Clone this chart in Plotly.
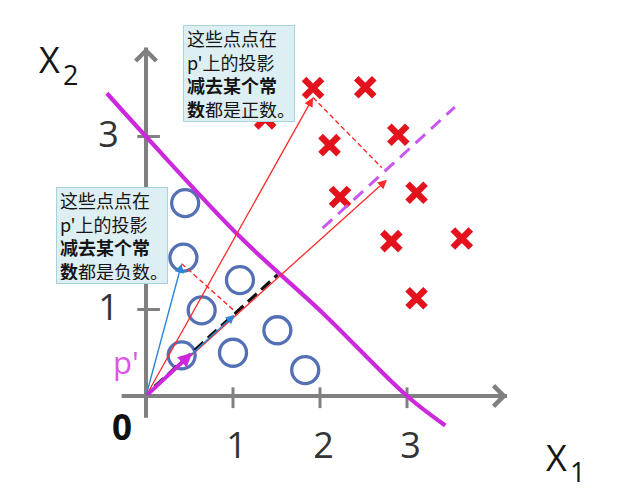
import plotly.graph_objects as go

# ---------------- data ----------------
cross_x = [1.37, 1.92, 2.52, 2.90, 2.11, 2.23, 3.11, 2.82, 3.63, 3.11]
cross_y = [3.21, 3.56, 3.57, 3.02, 2.90, 2.30, 2.35, 1.79, 1.82, 1.13]

circle_x = [0.45, 0.43, 1.08, 0.64, 1.51, 0.41, 1.00, 1.83]
circle_y = [2.23, 1.60, 1.34, 0.99, 0.76, 0.47, 0.50, 0.30]

boundary_x = [-0.45, 0.00, 1.08, 2.03, 3.00, 3.44]
boundary_y = [3.50, 3.00, 1.84, 0.96, 0.00, -0.34]

x_ticks = [1, 2, 3]
x_tick_labels = ["1", "2", "3"]
y_ticks = [1, 3]
y_tick_labels = ["1", "3"]

x_axis_ext = [-0.28, 4.15]
y_axis_ext = [-0.25, 4.03]

# projection direction p' (black dashed) and shifted (magenta dashed)
p_dir_x = [0.10, 1.51]
p_dir_y = [0.11, 1.40]
p_shift_x = [2.03, 3.55]
p_shift_y = [1.94, 3.34]
p_vec = [0.53, 0.50]

# red arrows (positive side) and blue arrows (negative side)
red_tip_x = [1.92, 2.77]
red_tip_y = [3.45, 2.50]
red_proj_x = [2.71]
red_proj_y = [2.64]
blue_tip_x = [0.41, 1.02]
blue_tip_y = [1.53, 0.94]
blue_proj_y = [0.98]

box_pos_text = "这些点点在<br>p'上的投影<br><b>减去某个常</b><br><b>数</b>都是正数。"
box_neg_text = "这些点点在<br>p'上的投影<br><b>减去某个常</b><br><b>数</b>都是负数。"

# ---------------- geometry of canvas ----------------
# page body has an 8px margin: figure pixel = reference pixel - 8
PAD = 8
W, H = 626 - PAD, 498 - PAD
OX, OY = 146 - PAD, 396 - PAD
SX, SY = 87.0, 86.5
xr = [-OX / SX, (W - OX) / SX]
yr = [-(H - OY) / SY, OY / SY]

GRAY = "#808080"
RED = "#ff2a2a"
XRED = "#e3121c"
BLUE = "#2f86d6"
CIRC = "rgb(84,112,180)"
MAG = "#cc28dc"
MAG2 = "#c857ee"
NUMFONT = "Open Sans, Lato, DejaVu Sans, sans-serif"
CJK = "Noto Sans CJK SC"

fig = go.Figure()

# axes lines
fig.add_trace(go.Scatter(x=x_axis_ext, y=[0, 0], mode="lines",
                         line=dict(color=GRAY, width=4), hoverinfo="skip"))
fig.add_trace(go.Scatter(x=[0, 0], y=y_axis_ext, mode="lines",
                         line=dict(color=GRAY, width=4), hoverinfo="skip"))
# tick marks
tx, ty = [], []
for t in x_ticks:
    tx += [t, t, None]
    ty += [-0.14, 0.10, None]
for t in y_ticks:
    tx += [-0.10, 0.16, None]
    ty += [t, t, None]
fig.add_trace(go.Scatter(x=tx, y=ty, mode="lines",
                         line=dict(color=GRAY, width=3), hoverinfo="skip"))

# tick labels
fig.add_trace(go.Scatter(x=[t + 0.04 for t in x_ticks], y=[-0.61] * len(x_ticks),
                         mode="text", text=x_tick_labels,
                         textfont=dict(family=NUMFONT, size=36, color="#333333"),
                         hoverinfo="skip"))
fig.add_trace(go.Scatter(x=[-0.43] * len(y_ticks), y=[t - 0.02 for t in y_ticks],
                         mode="text", text=y_tick_labels,
                         textfont=dict(family=NUMFONT, size=36, color="#333333"),
                         hoverinfo="skip"))

# circles
fig.add_trace(go.Scatter(x=circle_x, y=circle_y, mode="markers",
                         marker=dict(symbol="circle-open", size=27, color=CIRC,
                                     line=dict(color=CIRC, width=3.3)),
                         hoverinfo="skip"))
# crosses
fig.add_trace(go.Scatter(x=cross_x, y=cross_y, mode="markers",
                         marker=dict(symbol="x-thin", size=18, color=XRED,
                                     line=dict(color=XRED, width=6.5)),
                         hoverinfo="skip"))

# decision boundary
fig.add_trace(go.Scatter(x=boundary_x, y=boundary_y, mode="lines",
                         line=dict(color=MAG, width=4.2, shape="spline"),
                         hoverinfo="skip"))

# dashed direction lines
fig.add_trace(go.Scatter(x=p_dir_x, y=p_dir_y, mode="lines",
                         line=dict(color="#111111", width=3.2, dash="12px,6px"),
                         hoverinfo="skip"))
fig.add_trace(go.Scatter(x=p_shift_x, y=p_shift_y, mode="lines",
                         line=dict(color=MAG2, width=3, dash="13px,8px"),
                         hoverinfo="skip"))
# red dashed projection helpers
fig.add_trace(go.Scatter(x=[red_tip_x[0], red_proj_x[0]], y=[red_tip_y[0], red_proj_y[0]],
                         mode="lines", line=dict(color=RED, width=1.4, dash="5px,3px"),
                         hoverinfo="skip"))
fig.add_trace(go.Scatter(x=[blue_tip_x[0], blue_tip_x[1]], y=[blue_tip_y[0], blue_proj_y[0]],
                         mode="lines", line=dict(color=RED, width=1.4, dash="5px,3px"),
                         hoverinfo="skip"))

anns = []
# axis arrowheads
anns.append(dict(x=x_axis_ext[1], y=0, ax=x_axis_ext[1] - 0.3, ay=0, xref="x", yref="y",
                 axref="x", ayref="y", text="", showarrow=True, arrowhead=4,
                 arrowsize=1.0, arrowwidth=4, arrowcolor=GRAY))
anns.append(dict(x=0, y=y_axis_ext[1], ax=0, ay=y_axis_ext[1] - 0.3, xref="x", yref="y",
                 axref="x", ayref="y", text="", showarrow=True, arrowhead=4,
                 arrowsize=1.0, arrowwidth=4, arrowcolor=GRAY))
# red arrows
for x, y in zip(red_tip_x, red_tip_y):
    anns.append(dict(x=x, y=y, ax=0, ay=0, xref="x", yref="y", axref="x", ayref="y",
                     text="", showarrow=True, arrowhead=2, arrowsize=1.4,
                     arrowwidth=1.3, arrowcolor=RED))
# blue arrows
for x, y in zip(blue_tip_x, blue_tip_y):
    anns.append(dict(x=x, y=y, ax=0, ay=0, xref="x", yref="y", axref="x", ayref="y",
                     text="", showarrow=True, arrowhead=2, arrowsize=1.3,
                     arrowwidth=1.4, arrowcolor=BLUE))
# p' arrow
anns.append(dict(x=p_vec[0], y=p_vec[1], ax=0, ay=0, xref="x", yref="y", axref="x",
                 ayref="y", text="", showarrow=True, arrowhead=2, arrowsize=0.7,
                 arrowwidth=4, arrowcolor=MAG))


# labels (positions given in reference-picture pixels)
def px(xp):
    return (xp - PAD) / W


def py(yp):
    return 1 - (yp - PAD) / H


def label(xp, yp, txt, size, color):
    anns.append(dict(x=px(xp), y=py(yp), xref="paper", yref="paper", text=txt,
                     xanchor="center", yanchor="middle", showarrow=False,
                     font=dict(family=NUMFONT, size=size, color=color)))


label(126, 362, "p'", 31, "#dd55e6")
label(122, 426, "<b>0</b>", 35, "#111111")
label(49, 60, "X", 36, "#151515")
label(70, 75, "2", 27, "#151515")
label(556, 457, "X", 36, "#151515")
label(577, 471, "1", 27, "#151515")

# text boxes
for cx, cy, txt in [(239, 73.5, box_pos_text), (112, 235, box_neg_text)]:
    anns.append(dict(x=px(cx), y=py(cy), xref="paper", yref="paper", text=txt,
                     showarrow=False, align="left", xanchor="center", yanchor="middle",
                     width=104, height=89, borderpad=3, borderwidth=1,
                     bgcolor="#ddeff2", bordercolor="#a6d3dc",
                     font=dict(family=CJK, size=18, color="#151515")))

fig.update_layout(
    width=W, height=H, autosize=False,
    margin=dict(l=0, r=0, t=0, b=0),
    paper_bgcolor="white", plot_bgcolor="white",
    showlegend=False,
    xaxis=dict(range=xr, visible=False, fixedrange=True),
    yaxis=dict(range=yr, visible=False, fixedrange=True),
    annotations=anns,
)

fig.write_html("out.html")
